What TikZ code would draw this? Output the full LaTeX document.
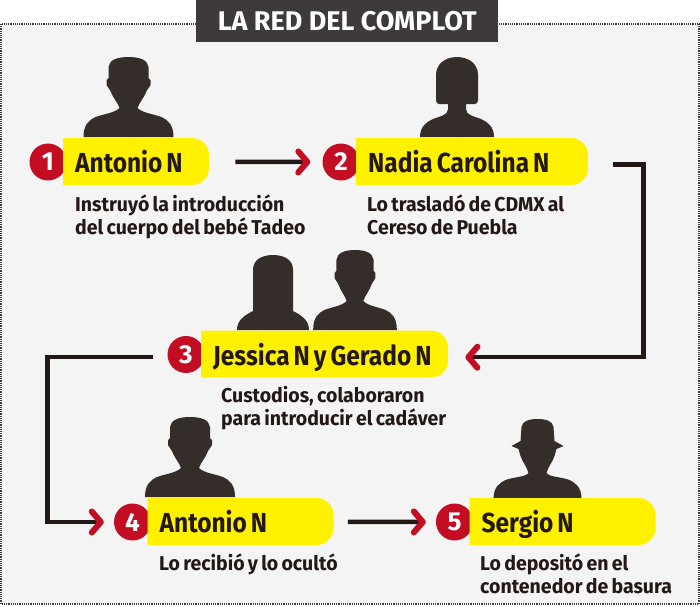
\documentclass[tikz,border=0pt]{standalone}
\usepackage{fontspec}
\setmainfont{Fira Sans}
\newfontfamily\namefont[FakeStretch=0.89]{Fira Sans}
\newfontfamily\descfont[FakeStretch=0.975, WordSpace=0.7]{Fira Sans}
\usetikzlibrary{arrows.meta, positioning}
\definecolor{redBlack}{HTML}{231815}
\definecolor{redDark}{HTML}{3E3A39}
\definecolor{redShape}{HTML}{352D2A}
\definecolor{redPanel}{HTML}{F4F4F5}
\definecolor{redYellow}{HTML}{FFF100}
\definecolor{redMark}{HTML}{C30D23}
\tikzset{
  manshape/.pic={
    \foreach \s in {1,-1}
      \fill[redShape, xscale=\s] (0.5,0) -- (-45,0) .. controls (-45,-13) and (-39,-17) .. (-33,-20)
        .. controls (-25,-23) and (-14,-24) .. (-9,-29) .. controls (-11,-35) and (-15,-38) .. (-18,-46)
        -- (-22,-52) -- (-22,-57) -- (-20,-59) -- (-20,-70) .. controls (-19,-77) and (-12,-80) .. (0.5,-80) -- cycle;
  },
  womanshape/.pic={
    \foreach \s in {1,-1}
      \fill[redShape, xscale=\s] (0.5,0) -- (-37,0) .. controls (-37,-10) and (-31,-15) .. (-24,-18)
        .. controls (-16,-21) and (-9,-22) .. (-9,-28) -- (-9,-33) -- (-18,-33)
        .. controls (-20,-33) and (-21,-35) .. (-21,-37) -- (-21,-62)
        .. controls (-21,-73) and (-12,-80) .. (0.5,-80) -- cycle;
  },
  longhairshape/.pic={
    \foreach \s in {1,-1}
      \fill[redShape, xscale=\s] (0.5,0) -- (-36,0) .. controls (-36,-9) and (-30,-14) .. (-20,-19)
        -- (-20,-60) .. controls (-20,-70) and (-12,-75) .. (0.5,-75) -- cycle;
  },
  hatshape/.pic={
    \foreach \s in {1,-1}
      \fill[redShape, xscale=\s] (0.5,0) -- (-44,0) .. controls (-44,-12) and (-38,-16) .. (-32,-19)
        .. controls (-24,-22) and (-12,-22) .. (-9,-26) .. controls (-11,-33) and (-15,-37) .. (-17,-43)
        -- (-19,-50) -- (-26,-53) -- (-17,-58) -- (-16,-72) .. controls (-15,-78) and (-9,-80) .. (0.5,-80) -- cycle;
  }
}
\newcommand{\namebar}[5]{
  \node[numdot] (num#1) at (#2-15,#3+24) {#1};
  \fill[redYellow] (#2,#3) [rounded corners=17pt] -- ++(#4,0) -- ++(0,47) [sharp corners] -- ++(-#4,0) -- cycle;
  \node[nametext, text width=#4pt] (name#1) at (#2,#3) {\hspace*{12pt}\spaceskip=4pt #5};
}
\begin{document}
\begin{tikzpicture}[x=1pt, y=-1pt,
  every node/.style={font=\bfseries, align=left},
  panel/.style={draw=redDark, fill=redPanel, line width=1.2pt, densely dotted},
  titlebox/.style={fill=redDark, text=white, font=\bfseries\fontsize{27}{27}\selectfont, minimum width=302pt, minimum height=42pt, anchor=north west, inner sep=0pt, align=center},
  numdot/.style={circle, fill=redMark, text=white, minimum size=37pt, inner sep=0pt, align=center, font=\bfseries\fontsize{26}{26}\selectfont},
  nametext/.style={anchor=north west, minimum height=47pt, inner sep=0pt, text=redBlack, text depth=0pt, font=\namefont\bfseries\fontsize{27.5}{27.5}\selectfont},
  desc/.style={anchor=north west, inner sep=0pt, text=redBlack, font=\descfont\bfseries\fontsize{20}{23}\selectfont},
  arr/.style={draw=redBlack, line width=4.5pt, -{Straight Barb[length=9pt, width=21pt, line width=6pt, round, color=redMark]}}
]
  \useasboundingbox (0,0) rectangle (700,606);
  \draw[panel] (1,24) rectangle (699,604);
  \node[titlebox] (title) at (196,0) {LA RED DEL COMPLOT};

  \pic at (128.5,137) {manshape};
  \pic at (457,137) {womanshape};
  \pic at (273,330) {longhairshape};
  \pic[xscale=0.93] at (355,330) {manshape};
  \pic at (190,497) {manshape};
  \pic at (537.5,499) {hatshape};

  \namebar{1}{63}{138}{146}{Antonio N}
  \namebar{2}{356}{138}{232}{Nadia Carolina N}
  \namebar{3}{201}{330.5}{247}{Jessica N y Gerado N}
  \namebar{4}{147.5}{498}{186}{Antonio N}
  \namebar{5}{469.5}{498}{186}{Sergio N}

  \node[desc] (desc1) at (75,194.5) {Instruyó la introducción\\del cuerpo del bebé Tadeo};
  \node[desc] (desc2) at (367,194.5) {Lo trasladó de CDMX al\\Cereso de Puebla};
  \node[desc] (desc3) at (221,386.5) {Custodios, colaboraron\\para introducir el cadáver};
  \node[desc] (desc4) at (159,554) {Lo recibió y lo ocultó};
  \node[desc] (desc5) at (480,554) {Lo depositó en el\\contenedor de basura};

  \draw[arr, shorten <=26pt, shorten >=12pt] (name1.east) -- (num2.west);
  \draw[arr, shorten <=25pt, shorten >=17pt] ([yshift=-3pt]name2.east) -- ++(55,0) |- ([yshift=-3pt]name3.east);
  \draw[arr, shorten <=14pt, shorten >=10pt] ([yshift=-2.5pt]num3.west) -- ++(-120,0) |- (num4.west);
  \draw[arr, shorten <=14pt, shorten >=10pt] (name4.east) -- (num5.west);
\end{tikzpicture}
\end{document}
